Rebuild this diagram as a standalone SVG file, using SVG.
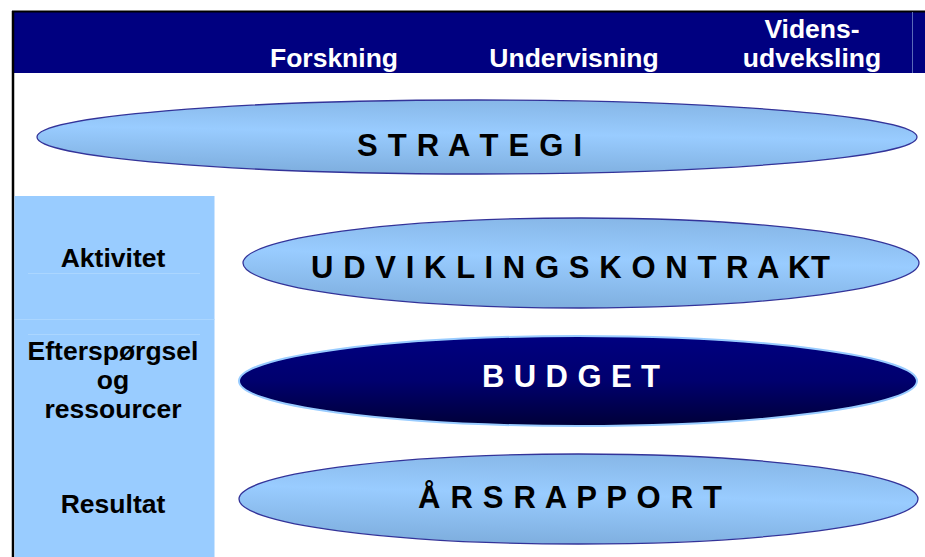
<svg xmlns="http://www.w3.org/2000/svg" width="925" height="557" viewBox="0 0 925 557">
<defs>
<linearGradient id="lightFill" x1="0.6" y1="0" x2="0.4" y2="1">
<stop offset="0" stop-color="#86B6E6"/>
<stop offset="0.45" stop-color="#99CCFF"/>
<stop offset="1" stop-color="#7EAEDE"/>
</linearGradient>
<linearGradient id="darkFill" x1="0" y1="0" x2="0" y2="1">
<stop offset="0" stop-color="#000080"/>
<stop offset="0.5" stop-color="#00006E"/>
<stop offset="1" stop-color="#000038"/>
</linearGradient>
</defs>
<style>
.hdr{font-family:"Liberation Sans",Arial,sans-serif;font-weight:bold;font-size:26.5px;fill:#FFFFFF;text-anchor:middle}
.side{font-family:"Liberation Sans",Arial,sans-serif;font-weight:bold;font-size:26.5px;fill:#000000;text-anchor:middle}
.ell{font-family:"Liberation Sans",Arial,sans-serif;font-weight:bold;font-size:31px}
.light{fill:url(#lightFill);stroke:#333399;stroke-width:1.3}
.dark{fill:url(#darkFill);stroke:#99CCFF;stroke-width:2}
.sep{stroke:#ABD6FF;stroke-width:1}
</style>
<rect x="0" y="0" width="925" height="557" fill="#FFFFFF"/>
<g id="header">
<rect x="13" y="12" width="912" height="61" fill="#000080"/>
<line x1="12" y1="11.5" x2="925" y2="11.5" stroke="#000000" stroke-width="2"/>
<line x1="912.5" y1="12" x2="912.5" y2="73" stroke="#5A6AB8" stroke-width="1"/>
<text class="hdr" x="334" y="67">Forskning</text>
<text class="hdr" x="574" y="67">Undervisning</text>
<text class="hdr" x="812" y="38">Videns-</text>
<text class="hdr" x="812" y="67">udveksling</text>
</g>
<line x1="13" y1="11" x2="13" y2="557" stroke="#000000" stroke-width="2.5"/>
<g id="sidepanel">
<rect x="14.5" y="196" width="200" height="361" fill="#99CCFF"/>
<line class="sep" x1="28" y1="273.5" x2="200" y2="273.5"/>
<line class="sep" x1="14.5" y1="319.5" x2="214.5" y2="319.5"/>
<line class="sep" x1="28" y1="334.5" x2="200" y2="334.5"/>
<text class="side" x="113" y="267">Aktivitet</text>
<text class="side" x="113" y="360">Efterspørgsel</text>
<text class="side" x="113" y="389">og</text>
<text class="side" x="113" y="418">ressourcer</text>
<text class="side" x="113" y="513">Resultat</text>
</g>
<g id="strategi">
<ellipse class="light" cx="477" cy="137" rx="440" ry="37"/>
<text class="ell" x="357" y="156" textLength="225" lengthAdjust="spacing" fill="#000000">S T R A T E G I</text>
</g>
<g id="udviklingskontrakt">
<ellipse class="light" cx="581" cy="263" rx="338" ry="45"/>
<text class="ell" x="311" y="278" textLength="519" lengthAdjust="spacing" fill="#000000">U D V I K L I N G S K O N T R A KT</text>
</g>
<g id="budget">
<ellipse class="dark" cx="578" cy="381" rx="339" ry="45"/>
<text class="ell" x="482" y="387" textLength="178" lengthAdjust="spacing" fill="#FFFFFF">B U D G E T</text>
</g>
<g id="aarsrapport">
<ellipse class="light" cx="578.5" cy="499" rx="339.5" ry="45"/>
<text class="ell" x="418" y="508" textLength="304" lengthAdjust="spacing" fill="#000000">Å R S R A P P O R T</text>
</g>
<g id="connectors"/>
</svg>
